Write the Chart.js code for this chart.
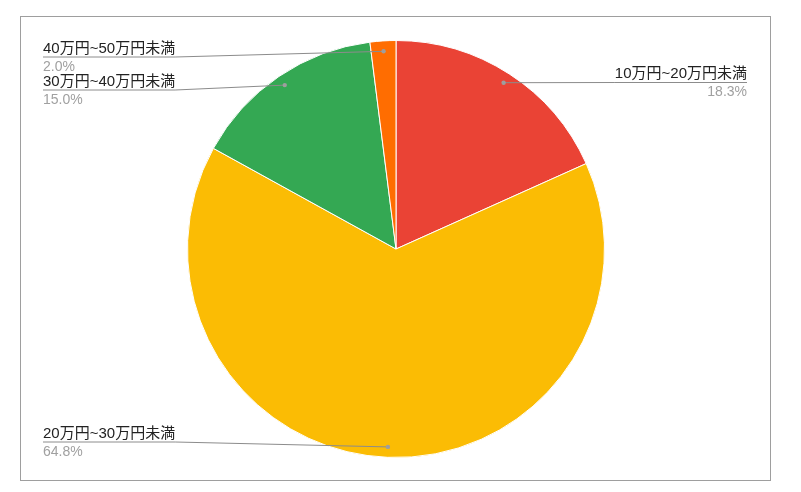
<!DOCTYPE html>
<html>
<head>
<meta charset="utf-8">
<script src="https://cdn.jsdelivr.net/npm/chart.js@4.4.1/dist/chart.umd.min.js"></script>
<style>
  html, body { margin:0; padding:0; background:#fff; }
  #wrap { position:relative; width:801px; height:492px; }
</style>
</head>
<body>
<div id="wrap"><canvas id="c" width="801" height="492"></canvas></div>
<script>
const categories = ["10万円~20万円未満", "20万円~30万円未満", "30万円~40万円未満", "40万円~50万円未満"];
const shares = [18.3, 64.8, 15.0, 2.0];
const shareLabels = ["18.3%", "64.8%", "15.0%", "2.0%"];
const colors = ["#ea4335", "#fbbc04", "#34a853", "#ff6d01"];

// label layout: side and underline y
const labelLayout = [
  { side: "right", y: 82.5 },
  { side: "left",  y: 442 },
  { side: "left",  y: 90 },
  { side: "left",  y: 57 }
];

const FONT = '"Liberation Sans", Arial, "Noto Sans CJK JP", sans-serif';

const framePlugin = {
  id: "frame",
  beforeDraw(chart) {
    const ctx = chart.ctx;
    ctx.save();
    ctx.fillStyle = "#fff";
    ctx.fillRect(0, 0, chart.width, chart.height);
    ctx.strokeStyle = "#9e9e9e";
    ctx.lineWidth = 1;
    ctx.strokeRect(20.5, 16.5, 750, 464);
    ctx.restore();
  }
};

const labelPlugin = {
  id: "pieLabels",
  afterDatasetsDraw(chart) {
    const ctx = chart.ctx;
    const meta = chart.getDatasetMeta(0);
    const leftX = 43, rightX = 747;
    ctx.save();
    meta.data.forEach((arc, i) => {
      const mid = (arc.startAngle + arc.endAngle) / 2;
      const r = arc.outerRadius * 0.95;
      const dx = arc.x + Math.cos(mid) * r;
      const dy = arc.y + Math.sin(mid) * r;
      const lay = labelLayout[i];
      ctx.font = "15px " + FONT;
      const tw = ctx.measureText(categories[i]).width;
      ctx.strokeStyle = "#8c8c8c";
      ctx.lineWidth = 1;
      ctx.beginPath();
      if (lay.side === "left") {
        ctx.moveTo(leftX, lay.y);
        ctx.lineTo(leftX + tw, lay.y);
        ctx.lineTo(dx, dy);
      } else {
        ctx.moveTo(rightX, lay.y);
        ctx.lineTo(rightX - tw, lay.y);
        ctx.lineTo(dx, dy);
      }
      ctx.stroke();
      ctx.fillStyle = "#9e9e9e";
      ctx.beginPath();
      ctx.arc(dx, dy, 2.2, 0, Math.PI * 2);
      ctx.fill();

      ctx.textBaseline = "alphabetic";
      ctx.textAlign = lay.side === "left" ? "left" : "right";
      const tx = lay.side === "left" ? leftX : rightX;
      ctx.fillStyle = "#222222";
      ctx.font = "15px " + FONT;
      ctx.fillText(categories[i], tx, lay.y - 4.5);
      ctx.fillStyle = "#a0a0a0";
      ctx.font = "14px " + FONT;
      ctx.fillText(shareLabels[i], tx, lay.y + 13.5);
    });
    ctx.restore();
  }
};

new Chart(document.getElementById("c"), {
  type: "pie",
  data: {
    labels: categories,
    datasets: [{
      data: shares,
      backgroundColor: colors,
      borderColor: "#ffffff",
      borderWidth: 1
    }]
  },
  options: {
    responsive: false,
    animation: false,
    layout: { padding: { left: 187, right: 196, top: 40, bottom: 34 } },
    plugins: {
      legend: { display: false },
      tooltip: { enabled: false }
    }
  },
  plugins: [framePlugin, labelPlugin]
});
</script>
</body>
</html>
